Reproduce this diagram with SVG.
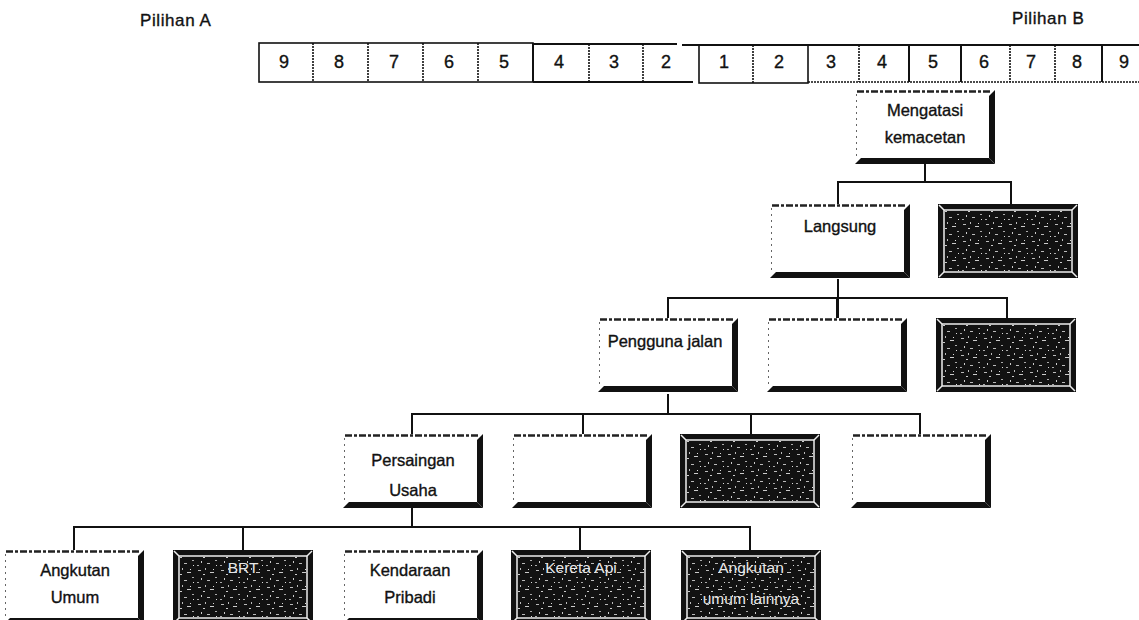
<svg xmlns="http://www.w3.org/2000/svg" xmlns:xlink="http://www.w3.org/1999/xlink" width="1139" height="620" viewBox="0 0 1139 620">
<style>
text{font-family:"Liberation Sans","DejaVu Sans",sans-serif;fill:#111;stroke:#111;stroke-width:0.35;}
.lbl{font-size:16.5px;text-anchor:middle;}
.dig{font-size:18px;text-anchor:middle;}
.hdr{font-size:17px;letter-spacing:0.6px;}
.dk{font-size:15.5px;text-anchor:middle;fill:#e8e8e8;stroke:none;}
.cell{fill:none;stroke:#111;stroke-width:1.6;}
.dot{stroke:#111;stroke-width:1.6;stroke-dasharray:2 1;fill:none;}
.sol{stroke:#111;stroke-width:2;fill:none;}
.conn line,.conn polyline{stroke:#111;stroke-width:2;fill:none;}
</style>
<defs>
<pattern id="speck" width="23" height="17" patternUnits="userSpaceOnUse">
<rect width="23" height="17" fill="#121212"/>
<rect x="2" y="3" width="3" height="1" fill="#bbb"/>
<rect x="9" y="1" width="1" height="2" fill="#bbb"/>
<rect x="14" y="5" width="4" height="1" fill="#ccc"/>
<rect x="19" y="10" width="2" height="1" fill="#aaa"/>
<rect x="5" y="11" width="1" height="2" fill="#ccc"/>
<rect x="11" y="13" width="3" height="1" fill="#bbb"/>
<rect x="17" y="2" width="1" height="1" fill="#ddd"/>
<rect x="7" y="7" width="2" height="1" fill="#ccc"/>
<rect x="20" y="15" width="1" height="1" fill="#ddd"/>
<rect x="1" y="15" width="2" height="1" fill="#aaa"/>
</pattern>
<g id="wframe">
<rect x="0" y="0" width="140" height="74" fill="#fff"/>
<line x1="2" y1="1.5" x2="136" y2="1.5" stroke="#222" stroke-width="2.5" stroke-dasharray="7 2 3 2"/>
<line x1="1.5" y1="4" x2="1.5" y2="70" stroke="#666" stroke-width="1" stroke-dasharray="2 4"/>
<polygon points="140,0 140,74 134,68 134,6" fill="#111"/>
<polygon points="0,74 140,74 134,68 6,68" fill="#111"/>
</g>
<g id="dframe">
<rect x="0" y="0" width="140" height="74" fill="#111"/>
<rect x="6" y="6" width="128" height="62" fill="url(#speck)" stroke="#eee" stroke-width="1.5"/>
<g stroke="#eee" stroke-width="1.5">
<line x1="1" y1="1" x2="6" y2="6"/><line x1="139" y1="1" x2="134" y2="6"/>
<line x1="1" y1="73" x2="6" y2="68"/><line x1="139" y1="73" x2="134" y2="68"/>
</g>
</g>
</defs>
<rect width="1139" height="620" fill="#fff"/>

<g id="header">
<text class="hdr" x="140" y="26">Pilihan A</text>
<text class="hdr" x="1012" y="24">Pilihan B</text>
</g>

<g id="scale">
<rect class="cell" x="259" y="43" width="274" height="39"/>
<line class="dot" x1="313" y1="43" x2="313" y2="82"/>
<line class="dot" x1="368" y1="43" x2="368" y2="82"/>
<line class="dot" x1="423" y1="43" x2="423" y2="82"/>
<line class="dot" x1="478" y1="43" x2="478" y2="82"/>
<line class="sol" x1="533" y1="43" x2="533" y2="82"/>
<line class="sol" x1="533" y1="44" x2="677" y2="44"/>
<line class="sol" x1="533" y1="82" x2="693" y2="82"/>
<line class="dot" x1="589" y1="44" x2="589" y2="82"/>
<line class="dot" x1="643" y1="44" x2="643" y2="82"/>
<line class="sol" x1="682" y1="45" x2="1139" y2="45"/>
<rect class="cell" x="699" y="45" width="109" height="38"/>
<line class="dot" x1="753" y1="45" x2="753" y2="83"/>
<line class="dot" x1="808" y1="82" x2="1139" y2="82"/>
<line class="dot" x1="859" y1="45" x2="859" y2="82"/>
<line class="sol" x1="909" y1="45" x2="909" y2="82"/>
<line class="sol" x1="961" y1="45" x2="961" y2="82"/>
<line class="dot" x1="1010" y1="45" x2="1010" y2="82"/>
<line class="dot" x1="1055" y1="45" x2="1055" y2="82"/>
<line class="sol" x1="1102" y1="45" x2="1102" y2="82"/>
<text class="dig" x="284" y="68">9</text>
<text class="dig" x="339" y="68">8</text>
<text class="dig" x="394" y="68">7</text>
<text class="dig" x="449" y="68">6</text>
<text class="dig" x="504" y="68">5</text>
<text class="dig" x="559" y="68">4</text>
<text class="dig" x="614" y="68">3</text>
<text class="dig" x="666" y="68">2</text>
<text class="dig" x="724" y="68">1</text>
<text class="dig" x="779" y="68">2</text>
<text class="dig" x="831" y="68">3</text>
<text class="dig" x="882" y="68">4</text>
<text class="dig" x="933" y="68">5</text>
<text class="dig" x="984" y="68">6</text>
<text class="dig" x="1031" y="68">7</text>
<text class="dig" x="1077" y="68">8</text>
<text class="dig" x="1124" y="68">9</text>
</g>

<g class="conn" id="connectors">
<line x1="925" y1="160" x2="925" y2="182"/>
<polyline points="838,204 838,182 1011,182 1011,204"/>
<line x1="838" y1="279" x2="838" y2="318"/>
<polyline points="668,318 668,298 1007,298 1007,318"/>
<line x1="837" y1="298" x2="837" y2="318"/>
<line x1="668" y1="394" x2="668" y2="414"/>
<polyline points="412,436 412,414 920,414 920,436"/>
<line x1="583" y1="414" x2="583" y2="436"/>
<line x1="751" y1="414" x2="751" y2="436"/>
<line x1="412" y1="508" x2="412" y2="527"/>
<polyline points="74,551 74,527 750,527 750,551"/>
<line x1="243" y1="527" x2="243" y2="551"/>
<line x1="580" y1="527" x2="580" y2="551"/>
</g>

<g id="n-mengatasi" transform="translate(855,90)">
<use xlink:href="#wframe"/>
<text class="lbl" x="70" y="26">Mengatasi</text>
<text class="lbl" x="70" y="53">kemacetan</text>
</g>

<g id="n-langsung" transform="translate(770,204)">
<use xlink:href="#wframe"/>
<text class="lbl" x="70" y="28">Langsung</text>
</g>
<g id="n-row2-dark" transform="translate(938,204)">
<use xlink:href="#dframe"/>
</g>

<g id="n-pengguna" transform="translate(598,318)">
<use xlink:href="#wframe"/>
<text class="lbl" x="67" y="29">Pengguna jalan</text>
</g>
<g id="n-row3-blank" transform="translate(767,318)">
<use xlink:href="#wframe"/>
</g>
<g id="n-row3-dark" transform="translate(936,318)">
<use xlink:href="#dframe"/>
</g>

<g id="n-persaingan" transform="translate(343,434)">
<use xlink:href="#wframe"/>
<text class="lbl" x="70" y="32">Persaingan</text>
<text class="lbl" x="70" y="62">Usaha</text>
</g>
<g id="n-row4-blank1" transform="translate(512,434)">
<use xlink:href="#wframe"/>
</g>
<g id="n-row4-dark" transform="translate(680,434)">
<use xlink:href="#dframe"/>
</g>
<g id="n-row4-blank2" transform="translate(851,434)">
<use xlink:href="#wframe"/>
</g>

<g id="n-angkutan" transform="translate(4,550)">
<use xlink:href="#wframe"/>
<text class="lbl" x="71" y="26">Angkutan</text>
<text class="lbl" x="71" y="53">Umum</text>
</g>
<g id="n-brt" transform="translate(173,550)">
<use xlink:href="#dframe"/>
<text class="dk" x="70" y="23">BRT</text>
</g>
<g id="n-kendaraan" transform="translate(343,550)">
<use xlink:href="#wframe"/>
<text class="lbl" x="67" y="26">Kendaraan</text>
<text class="lbl" x="67" y="53">Pribadi</text>
</g>
<g id="n-kereta" transform="translate(511,550)">
<use xlink:href="#dframe"/>
<text class="dk" x="70" y="23">Kereta Api</text>
</g>
<g id="n-angkutan-lain" transform="translate(681,550)">
<use xlink:href="#dframe"/>
<text class="dk" x="70" y="23">Angkutan</text>
<text class="dk" x="70" y="54">umum lainnya</text>
</g>
</svg>
